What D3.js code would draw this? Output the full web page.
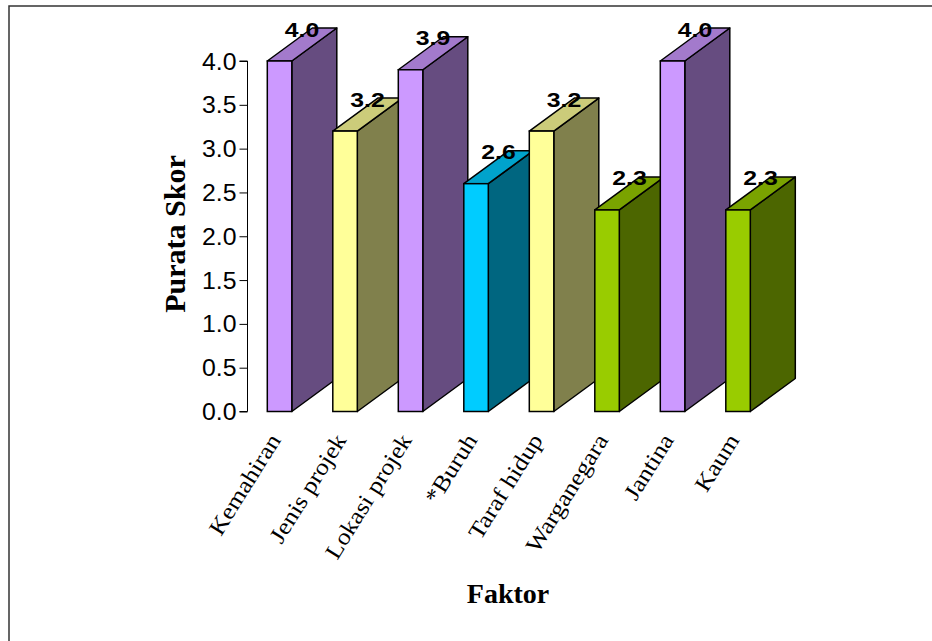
<!DOCTYPE html>
<html>
<head>
<meta charset="utf-8">
<script src="https://cdn.jsdelivr.net/npm/d3@7"></script>
<style>
  html, body { margin: 0; padding: 0; background: #fff; }
  svg { display: block; }
</style>
</head>
<body>
<div id="chart"></div>
<script>
// ---- data ----
const categories = ["Kemahiran", "Jenis projek", "Lokasi projek", "*Buruh", "Taraf hidup", "Warganegara", "Jantina", "Kaum"];
const values = [4.0, 3.2, 3.9, 2.6, 3.2, 2.3, 4.0, 2.3];
const valueLabels = ["4.0", "3.2", "3.9", "2.6", "3.2", "2.3", "4.0", "2.3"];
const yTicks = [0, 0.5, 1.0, 1.5, 2.0, 2.5, 3.0, 3.5, 4.0];
const yTitle = "Purata Skor";
const xTitle = "Faktor";

// ---- palette (front, top, side) per bar ----
const purple = ["#CC99FF", "#A37ACC", "#664C80"];
const yellow = ["#FFFF99", "#CCCC7A", "#80804C"];
const cyan   = ["#00CCFF", "#00A3CC", "#006680"];
const green  = ["#99CC00", "#7AA300", "#4C6600"];
const barPalette = [purple, yellow, purple, cyan, yellow, green, purple, green];

const W = 932, H = 641;
const svg = d3.select("#chart").append("svg").attr("width", W).attr("height", H);

// frame
svg.append("path")
  .attr("d", `M9,${H + 2} L9,6 L${W + 2},6`)
  .attr("fill", "none").attr("stroke", "#333").attr("stroke-width", 1.5);

const x = d3.scaleBand().domain(categories).range([267.3, 750.3]).paddingInner(0.626).paddingOuter(0);
const y = d3.scaleLinear().domain([0, 4]).range([411.5, 61]);
const DX = 45, DY = 33;

// y axis
const yAxis = d3.axisLeft(y).tickValues(yTicks).tickSize(8).tickFormat(d3.format(".1f"));
const ag = svg.append("g").attr("transform", "translate(247.5,0)").call(yAxis);
ag.select(".domain").attr("stroke", "#000").attr("stroke-width", 1).attr("d", `M-8,${y(4)}H0V${y(0)}H-8`);
ag.selectAll(".tick line").attr("stroke", "#000");
ag.selectAll(".tick text")
  .attr("font-family", "Liberation Sans, Arial, sans-serif")
  .attr("font-size", 23).attr("fill", "#000")
  .attr("x", null).attr("dy", null)
  .attr("text-anchor", "end")
  .attr("transform", "translate(-11,8) scale(1.08,1)");

// bars
const bars = svg.append("g").selectAll("g").data(categories).join("g");
bars.each(function (c, i) {
  const g = d3.select(this);
  const x0 = x(c), x1 = x(c) + x.bandwidth();
  const yt = y(values[i]), yb = y(0);
  const pal = barPalette[i];
  // side
  g.append("path")
    .attr("d", `M${x1},${yb} L${x1 + DX},${yb - DY} L${x1 + DX},${yt - DY} L${x1},${yt} Z`)
    .attr("fill", pal[2]).attr("stroke", "#000").attr("stroke-width", 1.5).attr("stroke-linejoin", "round");
  // top
  g.append("path")
    .attr("d", `M${x0},${yt} L${x0 + DX},${yt - DY} L${x1 + DX},${yt - DY} L${x1},${yt} Z`)
    .attr("fill", pal[1]).attr("stroke", "#000").attr("stroke-width", 1.5).attr("stroke-linejoin", "round");
  // front
  g.append("rect")
    .attr("x", x0).attr("y", yt).attr("width", x.bandwidth()).attr("height", yb - yt)
    .attr("fill", pal[0]).attr("stroke", "#000").attr("stroke-width", 1.5);
});

// value labels
svg.append("g").selectAll("text").data(categories).join("text")
  .attr("transform", (c, i) => `translate(${x(c) + x.bandwidth() / 2 + DX / 2},${y(values[i]) - DY / 2 - 8}) scale(1.18,1)`)
  .attr("text-anchor", "middle")
  .attr("font-family", "Liberation Sans, Arial, sans-serif")
  .attr("font-weight", "bold").attr("font-size", 21).attr("fill", "#000")
  .text((c, i) => valueLabels[i]);

// category labels
svg.append("g").selectAll("text").data(categories).join("text")
  .attr("transform", c => `translate(${x(c) + x.bandwidth() / 2 + 2},440) rotate(-58) scale(1.12,1)`)
  .attr("text-anchor", "end")
  .attr("font-family", "Liberation Serif, 'Times New Roman', serif")
  .attr("font-size", 23).attr("fill", "#000")
  .text(c => c);

// axis titles
svg.append("text")
  .attr("transform", `translate(185,234) rotate(-90)`)
  .attr("text-anchor", "middle")
  .attr("font-family", "Liberation Serif, 'Times New Roman', serif")
  .attr("font-weight", "bold").attr("font-size", 30).attr("fill", "#000")
  .text(yTitle);

svg.append("text")
  .attr("x", 508).attr("y", 603)
  .attr("text-anchor", "middle")
  .attr("font-family", "Liberation Serif, 'Times New Roman', serif")
  .attr("font-weight", "bold").attr("font-size", 28).attr("fill", "#000")
  .text(xTitle);
</script>
</body>
</html>
